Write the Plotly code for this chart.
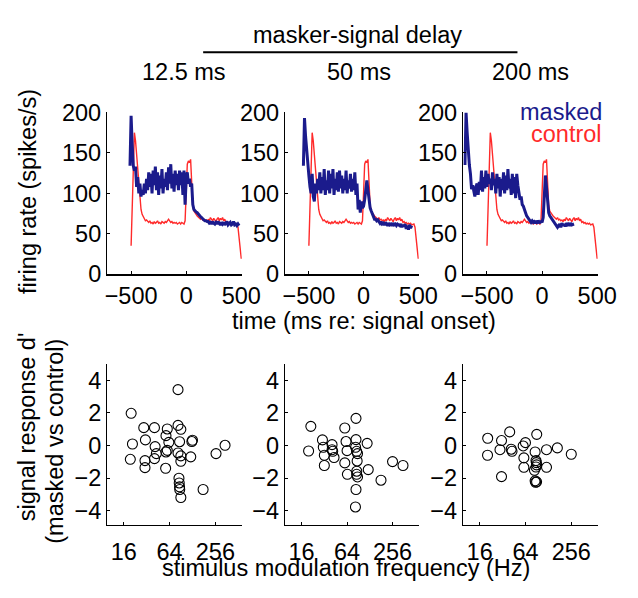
import plotly.graph_objects as go

# ---------------- data ----------------
delays = ["12.5 ms", "50 ms", "200 ms"]

control_t = list(range(-500, 501, 10))
control_rate = [35, 95, 150, 175, 165, 148, 128, 110, 92, 80,
                74, 71, 69, 66, 67, 65, 64, 66, 63, 64,
                62, 65, 63, 64, 66, 63, 64, 62, 65, 64,
                63, 65, 64, 66, 68, 66, 64, 65, 63, 64,
                63, 64, 62, 63, 64, 62, 64, 63, 62, 66,
                110, 136, 140, 138, 142, 105, 85, 78, 75, 74,
                72, 71, 70, 68, 70, 67, 68, 66, 67, 65,
                68, 66, 70, 67, 66, 69, 67, 65, 68, 70,
                66, 69, 67, 70, 66, 68, 64, 65, 63, 64,
                62, 63, 62, 63, 61, 62, 62, 58, 45, 32, 19]

masked_t_1 = list(range(-510, 481, 10))
masked_rate_1 = [134, 196, 160, 134, 128, 133, 108, 120, 100, 112,
                 96, 104, 98, 112, 100, 118, 104, 126, 108, 124,
                 100, 128, 110, 133, 104, 126, 98, 122, 106, 130,
                 100, 118, 108, 126, 104, 132, 112, 136, 106, 124,
                 102, 128, 110, 124, 104, 128, 110, 126, 98, 128,
                 86, 118, 126, 112, 118, 108, 112, 86, 80, 78,
                 77, 76, 74, 73, 71, 70, 68, 67, 66, 66,
                 65, 65, 63, 64, 62, 65, 63, 62, 64, 62,
                 65, 63, 61, 64, 62, 64, 61, 63, 65, 61,
                 63, 64, 61, 62, 65, 61, 62, 60, 62, 60]

masked_t_2 = list(range(-550, 441, 10))
masked_rate_2 = [134, 193, 170, 150, 140, 122, 108, 100, 124, 96,
                 90, 112, 100, 118, 104, 126, 100, 120, 104, 130,
                 98, 116, 104, 128, 100, 124, 106, 130, 98, 118,
                 104, 126, 102, 128, 106, 122, 100, 118, 104, 128,
                 100, 116, 106, 124, 102, 118, 104, 126, 98, 112,
                 80, 92, 76, 90, 82, 84, 92, 110, 116, 104,
                 90, 82, 78, 74, 70, 68, 68, 66, 67, 64,
                 63, 65, 62, 63, 61, 64, 62, 60, 63, 61,
                 62, 60, 63, 61, 62, 60, 62, 61, 60, 62,
                 58, 61, 59, 62, 56, 60, 55, 61, 57, 60]

masked_t_3 = list(range(-700, 291, 10))
masked_rate_3 = [135, 200, 175, 150, 135, 124, 105, 110, 100, 96,
                 108, 112, 98, 114, 104, 128, 102, 120, 106, 128,
                 108, 124, 112, 118, 104, 126, 110, 118, 100, 124,
                 106, 120, 96, 118, 104, 126, 100, 122, 104, 130,
                 106, 118, 98, 124, 100, 120, 94, 124, 110, 100,
                 92, 96, 86, 84, 78, 76, 72, 70, 68, 66,
                 64, 66, 64, 65, 63, 66, 64, 65, 63, 66,
                 64, 70, 100, 122, 108, 86, 76, 72, 70, 68,
                 66, 64, 62, 60, 58, 60, 62, 58, 63, 60,
                 62, 59, 63, 61, 62, 60, 63, 61, 62, 62]

masked_t = [masked_t_1, masked_t_2, masked_t_3]
masked_rate = [masked_rate_1, masked_rate_2, masked_rate_3]

freq_1 = [20.0, 20.8, 19.5, 29.3, 40.5, 30.8, 30.4, 30.4, 41.3, 42.9,
          40.5, 59.7, 57.4, 62.6, 59.7, 57.4, 56.8, 82.6, 82.6, 90.0,
          86.6, 82.6, 90.0, 90.0, 121.5, 125.6, 128.0, 85.0, 85.7, 86.6,
          87.0, 90.0, 176.5, 261.0, 343.0]
dprime_1 = [1.98, 0.10, -0.84, 1.10, 1.10, 0.35, -0.92, -1.35, -0.06, -0.49,
            -0.80, 1.02, 0.61, 0.20, -0.29, -0.39, -1.39, 3.43, 1.24, 1.00,
            0.24, -0.45, -0.63, -0.96, -0.69, 0.25, 0.33, -2.00, -2.29, -2.53,
            -2.69, -3.18, -2.69, -0.49, 0.02]

freq_2 = [21.2, 19.8, 30.2, 31.0, 32.0, 32.0, 40.5, 40.5, 41.3, 43.0,
          59.7, 62.0, 64.0, 59.7, 64.6, 84.0, 84.0, 83.0, 85.7, 88.0,
          87.0, 86.0, 85.7, 88.0, 84.0, 82.6, 118.0, 122.0, 180.0, 256.0,
          352.0]
dprime_2 = [1.18, -0.33, 0.35, -0.10, -0.59, -1.22, 0.06, -0.25, -0.35, -0.73,
            1.08, 0.25, -0.31, -1.06, -1.76, 1.67, 0.37, -0.10, -0.35, -0.49,
            -0.94, -1.57, -1.76, -1.92, -2.69, -3.76, 0.14, -1.47, -2.12, -0.98,
            -1.22]

freq_3 = [20.4, 20.3, 31.0, 29.6, 39.7, 41.6, 42.6, 31.0, 59.7, 64.0,
          61.0, 61.0, 90.0, 85.7, 88.0, 89.0, 89.6, 88.0, 84.0, 85.7,
          87.0, 89.6, 121.0, 121.0, 168.0, 256.0]
dprime_3 = [0.45, -0.59, 0.31, -0.25, 0.84, -0.22, -0.35, -1.90, -0.02, 0.18,
            -0.75, -1.33, 0.69, -0.39, -0.92, -1.04, -1.18, -1.31, -1.51, -2.16,
            -2.25, -2.22, -0.25, -1.33, -0.14, -0.53]

freqs = [freq_1, freq_2, freq_3]
dprimes = [dprime_1, dprime_2, dprime_3]

time_ticks = [-500, 0, 500]
rate_ticks = [0, 50, 100, 150, 200]
freq_ticks = [16, 64, 256]
dprime_ticks = [-4, -2, 0, 2, 4]

W, H = 638, 598
BLUE = "#1b1b8c"
RED = "#ff2a2a"
FONT = "Liberation Sans"
FS = 23.5

def px(x):
    return x / W

def py(y):
    return 1 - y / H

x_dom = [(109, 248), (293, 431), (477, 616)]
top_y = (104, 273)
bot_y = (367, 535)

fig = go.Figure()
layout = {}

for i in range(3):
    n_top = i + 1
    n_bot = i + 4
    xa_t = "x" if n_top == 1 else f"x{n_top}"
    ya_t = "y" if n_top == 1 else f"y{n_top}"
    xa_b = f"x{n_bot}"
    ya_b = f"y{n_bot}"

    fig.add_trace(go.Scatter(x=control_t, y=control_rate, mode="lines",
                             line=dict(color=RED, width=1.4),
                             xaxis=xa_t, yaxis=ya_t, showlegend=False))
    fig.add_trace(go.Scatter(x=masked_t[i], y=masked_rate[i], mode="lines",
                             line=dict(color=BLUE, width=3),
                             xaxis=xa_t, yaxis=ya_t, showlegend=False))
    fig.add_trace(go.Scatter(x=freqs[i], y=dprimes[i], mode="markers",
                             marker=dict(symbol="circle-open", size=10,
                                         color="black", line=dict(width=1.1)),
                             xaxis=xa_b, yaxis=ya_b, showlegend=False))

    common = dict(showgrid=False, zeroline=False, showline=True,
                  linecolor="black", linewidth=1.5, ticks="inside",
                  ticklen=3, tickcolor="black", fixedrange=True,
                  tickfont=dict(family=FONT, size=FS, color="black"))

    kx_t = "xaxis" if n_top == 1 else f"xaxis{n_top}"
    ky_t = "yaxis" if n_top == 1 else f"yaxis{n_top}"
    layout[kx_t] = dict(domain=[px(x_dom[i][0]), px(x_dom[i][1])],
                        range=[-715, 505], tickvals=time_ticks,
                        anchor=ya_t, **common)
    layout[ky_t] = dict(domain=[py(top_y[1]), py(top_y[0])],
                        range=[0, 200], tickvals=rate_ticks,
                        anchor=xa_t, **common)
    layout[f"xaxis{n_bot}"] = dict(domain=[px(x_dom[i][0]), px(x_dom[i][1])],
                                   type="log", range=[0.989, 2.756],
                                   tickvals=freq_ticks, ticktext=[str(v) for v in freq_ticks],
                                   ticklabelstandoff=6,
                                   anchor=ya_b, **common)
    layout[f"yaxis{n_bot}"] = dict(domain=[py(bot_y[1]), py(bot_y[0])],
                                   range=[-4.85, 5], tickvals=dprime_ticks,
                                   anchor=xa_b, **common)

def txt(text, x, y, size=FS, color="black", angle=0, xanchor="center"):
    return dict(text=text, x=px(x), y=py(y), xref="paper", yref="paper",
                showarrow=False, textangle=angle, xanchor=xanchor, yanchor="middle",
                font=dict(family=FONT, size=size, color=color))

annotations = [
    txt("masker-signal delay", 368, 23),
    txt(delays[0], 188, 62),
    txt(delays[1], 369, 62),
    txt(delays[2], 547, 62),
    txt("firing rate (spikes/s)", 27, 187, angle=-90),
    txt("time (ms re: signal onset)", 374, 322),
    txt("signal response d'", 26, 433, angle=-90),
    txt("(masked vs control)", 54, 448, angle=-90),
    txt("stimulus modulation frequency (Hz)", 356, 580),
    txt("masked", 623, 104, color=BLUE, xanchor="right"),
    txt("control", 623, 126, color=RED, xanchor="right"),
]

shapes = [dict(type="line", xref="paper", yref="paper",
               x0=px(208), x1=px(533), y0=py(41), y1=py(41),
               line=dict(color="black", width=2))]

fig.update_layout(width=W, height=H, margin=dict(l=0, r=0, t=0, b=0),
                  paper_bgcolor="white", plot_bgcolor="white",
                  annotations=annotations, shapes=shapes, **layout)

fix_page = ("document.documentElement.style.margin='0';document.documentElement.style.overflow='hidden';"
            "document.body.style.margin='0';document.body.style.padding='0';"
            "document.body.style.overflow='hidden';")
fig.write_html("out.html", config={"staticPlot": True, "displayModeBar": False},
               post_script=fix_page)
